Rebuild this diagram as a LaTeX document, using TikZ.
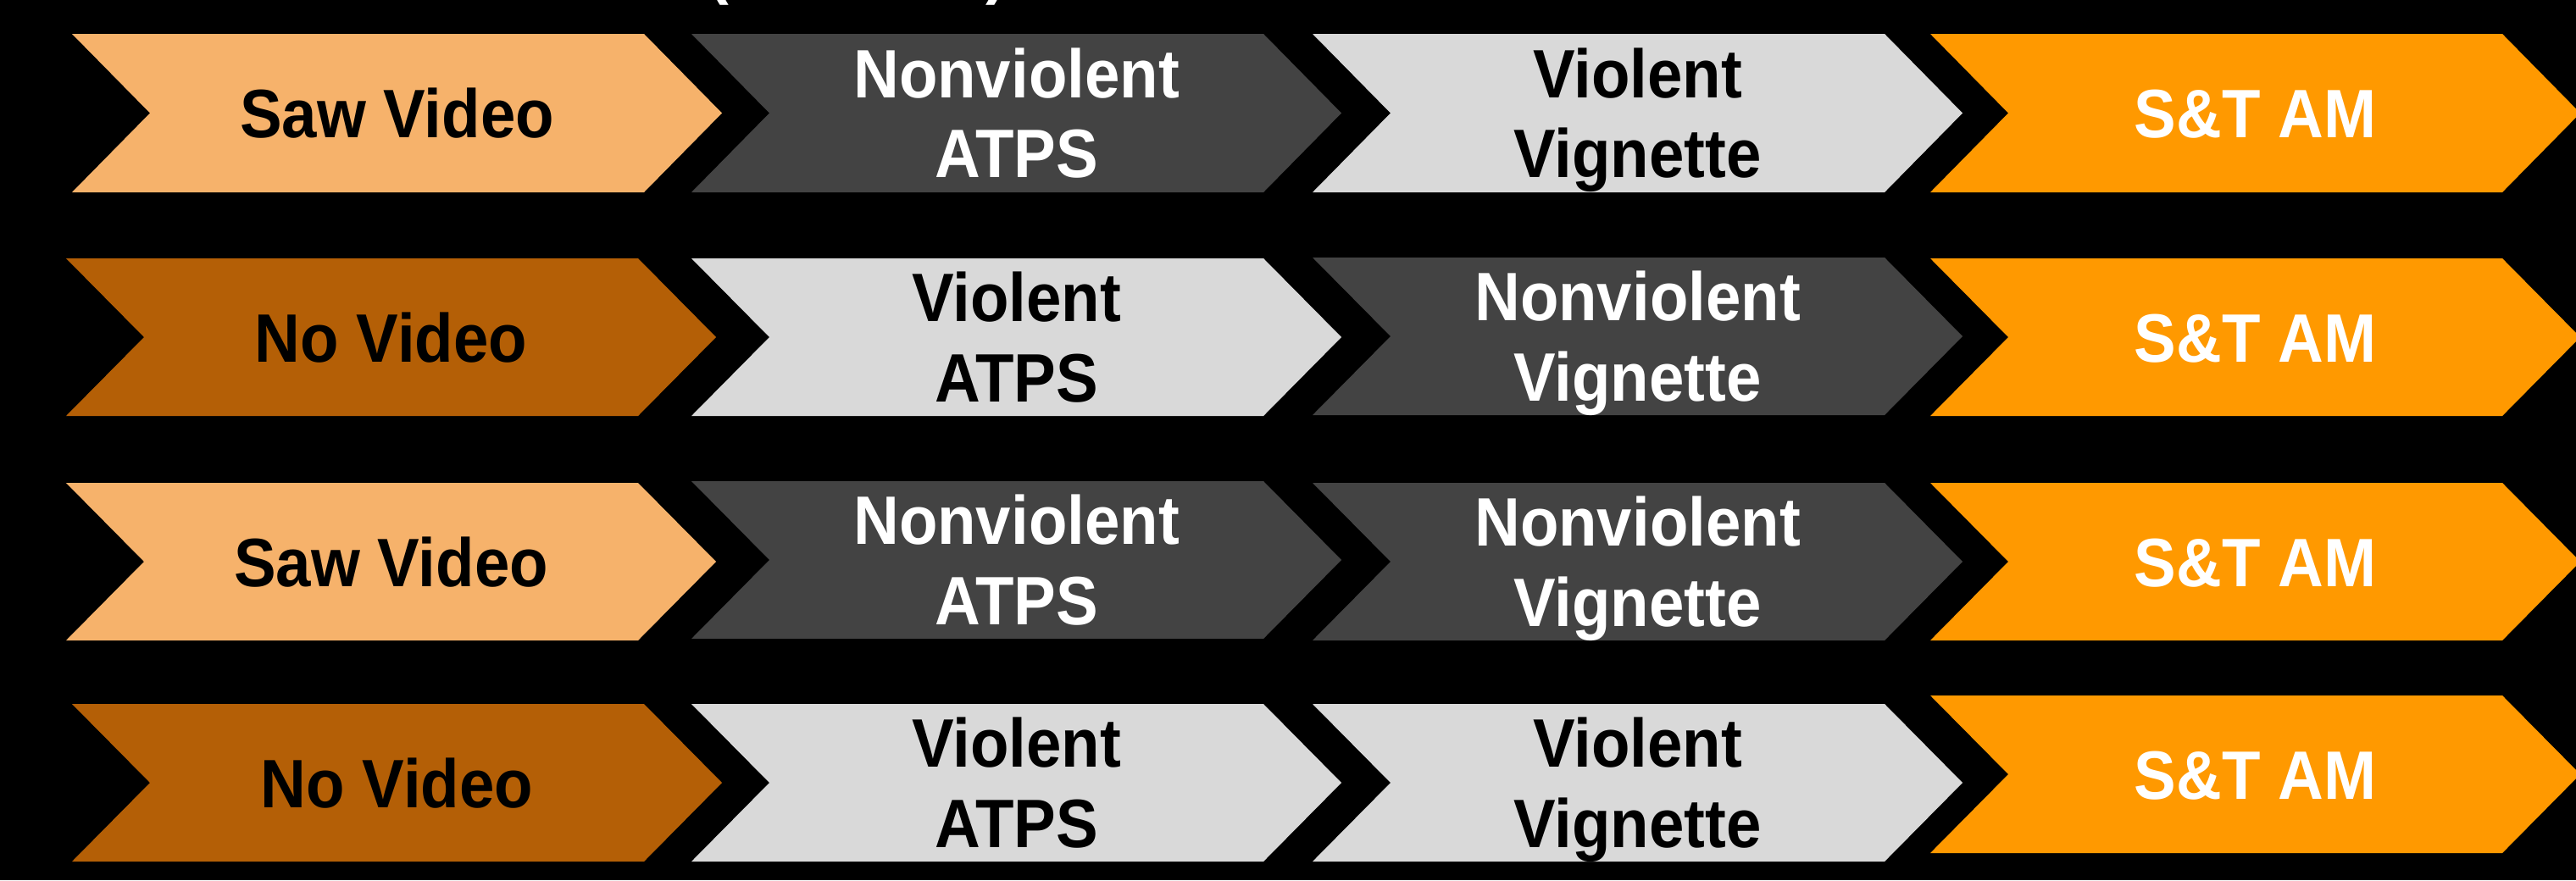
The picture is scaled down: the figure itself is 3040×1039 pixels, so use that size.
\documentclass[tikz,border=0pt]{standalone}
\usepackage{fontspec}
\setmainfont{Liberation Sans}[FakeStretch=0.92]
\definecolor{lightorange}{HTML}{F6B26B}
\definecolor{brownorange}{HTML}{B45F06}
\definecolor{darkgrey}{HTML}{434343}
\definecolor{lightgrey}{HTML}{D9D9D9}
\definecolor{brightorange}{HTML}{FF9900}
\tikzset{
  lab/.style={inner sep=0pt, align=center, font=\bfseries\fontsize{23}{27}\selectfont},
  oneline/.style={lab, text height=16.5pt, text depth=0pt},
  twoline/.style={lab, text height=43.5pt, text depth=0pt},
}
% #1 name, #2 x left, #3 y top, #4 y bottom, #5 fill, #6 text colour, #7 text style, #8 text
\newcommand\chevbox[8]{%
  \fill[#5] (#2,#3) -- ({#2+675},#3) -- ({#2+767},{(#3+#4)/2}) -- ({#2+675},#4)
    -- (#2,#4) -- ({#2+92},{(#3+#4)/2}) -- cycle;
  \node[#7, text=#6] (#1) at ({#2+383.5},{(#3+#4)/2}) {#8};
}
\begin{document}
\begin{tikzpicture}[x=0.01cm, y=-0.01cm]
\fill[black] (0,0) rectangle (3040,1039);
\useasboundingbox (0,0) rectangle (3040,1039);
\begin{scope}
\clip (0,0) rectangle (3040,1039);
\node[lab, text=white, anchor=base] (po) at (848,-11) {(};
\node[lab, text=white, anchor=base] (pc) at (1176,-11) {)};
\end{scope}
% row 1
\chevbox{a1}{85}{40}{227}{lightorange}{black}{oneline}{Saw Video}
\chevbox{a2}{816}{40}{227}{darkgrey}{white}{twoline}{Nonviolent\\ATPS}
\chevbox{a3}{1549}{40}{227}{lightgrey}{black}{twoline}{Violent\\Vignette}
\chevbox{a4}{2278}{40}{227}{brightorange}{white}{oneline}{S\&T AM}
% row 2
\chevbox{b1}{78}{305}{491}{brownorange}{black}{oneline}{No Video}
\chevbox{b2}{816}{305}{491}{lightgrey}{black}{twoline}{Violent\\ATPS}
\chevbox{b3}{1549}{304}{490}{darkgrey}{white}{twoline}{Nonviolent\\Vignette}
\chevbox{b4}{2278}{305}{491}{brightorange}{white}{oneline}{S\&T AM}
% row 3
\chevbox{c1}{78}{570}{756}{lightorange}{black}{oneline}{Saw Video}
\chevbox{c2}{816}{568}{754}{darkgrey}{white}{twoline}{Nonviolent\\ATPS}
\chevbox{c3}{1549}{570}{756}{darkgrey}{white}{twoline}{Nonviolent\\Vignette}
\chevbox{c4}{2278}{570}{756}{brightorange}{white}{oneline}{S\&T AM}
% row 4
\chevbox{d1}{85}{831}{1017}{brownorange}{black}{oneline}{No Video}
\chevbox{d2}{816}{831}{1017}{lightgrey}{black}{twoline}{Violent\\ATPS}
\chevbox{d3}{1549}{831}{1017}{lightgrey}{black}{twoline}{Violent\\Vignette}
\chevbox{d4}{2278}{821}{1007}{brightorange}{white}{oneline}{S\&T AM}
\end{tikzpicture}
\end{document}
